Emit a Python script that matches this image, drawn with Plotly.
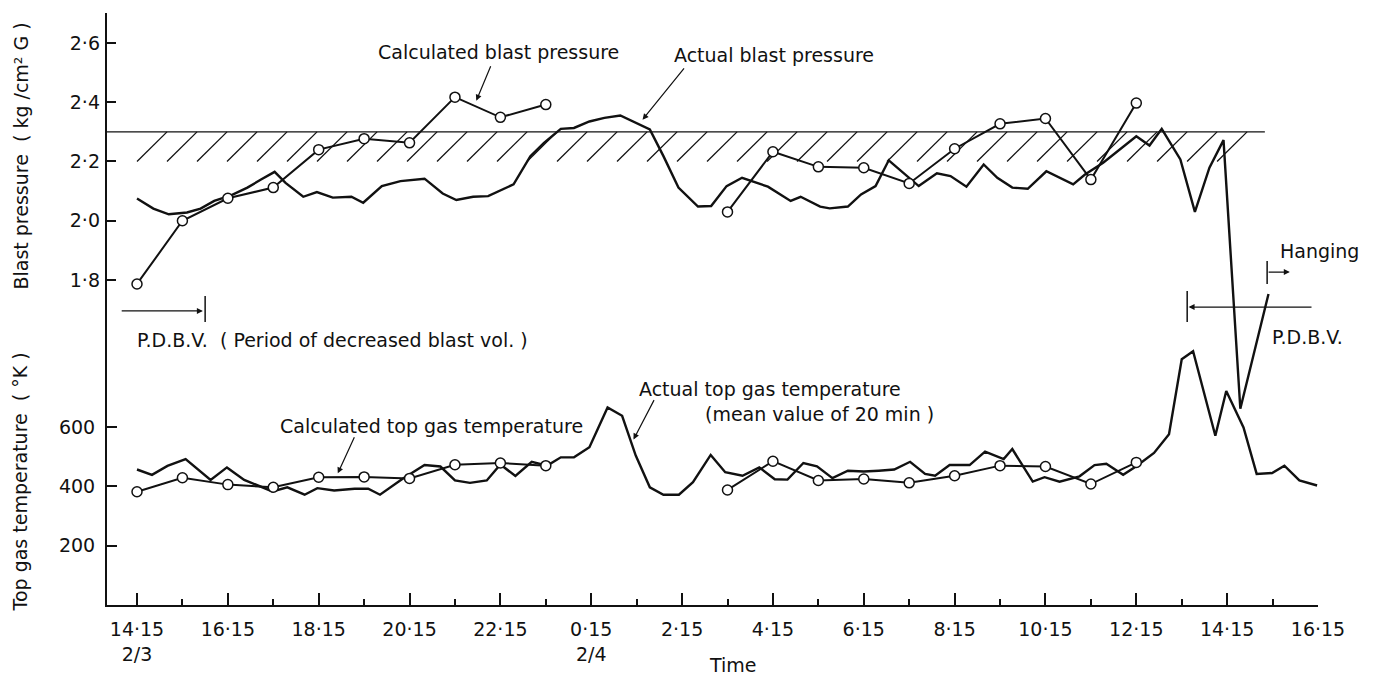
import plotly.graph_objects as go

# ---------------- data (time = hours elapsed since 14:15 on 2/3) ----------------
actual_p_t = [0.00, 0.36, 0.70, 1.10, 1.40, 1.70, 2.07, 2.43, 2.73, 3.03, 3.27, 3.66, 3.96,
              4.31, 4.72, 4.98, 5.39, 5.80, 6.33, 6.73, 7.03, 7.40, 7.73, 8.29, 8.66, 8.96,
              9.33, 9.62, 9.96, 10.29, 10.64, 10.96, 11.29, 11.59, 11.92, 12.35, 12.64, 12.98,
              13.32, 13.89, 14.39, 14.61, 15.04, 15.25, 15.65, 15.94, 16.26, 16.55, 17.21,
              17.61, 17.91, 18.26, 18.64, 18.94, 19.27, 19.61, 20.02, 20.61, 20.87, 21.27,
              22.00, 22.29, 22.56, 22.97, 23.29, 23.61, 23.92, 24.29, 24.91]
actual_p = [2.075, 2.041, 2.022, 2.028, 2.041, 2.067, 2.086, 2.112, 2.139, 2.165, 2.128, 2.081,
            2.097, 2.078, 2.081, 2.061, 2.117, 2.134, 2.142, 2.092, 2.070, 2.081, 2.083, 2.123,
            2.218, 2.263, 2.310, 2.313, 2.335, 2.347, 2.355, 2.332, 2.308, 2.218, 2.112, 2.048,
            2.050, 2.117, 2.145, 2.115, 2.067, 2.081, 2.048, 2.042, 2.048, 2.089, 2.117, 2.204,
            2.117, 2.160, 2.151, 2.115, 2.190, 2.145, 2.112, 2.108, 2.167, 2.123, 2.156, 2.196,
            2.285, 2.254, 2.310, 2.207, 2.030, 2.179, 2.272, 1.366, 1.753]

actual_T_t = [0.00, 0.33, 0.67, 1.07, 1.62, 1.98, 2.36, 2.98, 3.31, 3.69, 3.97, 4.34, 4.79,
              5.09, 5.35, 5.84, 6.33, 6.68, 7.00, 7.33, 7.70, 8.00, 8.33, 8.69, 9.03, 9.33,
              9.62, 9.96, 10.36, 10.68, 10.98, 11.29, 11.59, 11.93, 12.24, 12.63, 12.95, 13.33,
              13.70, 14.04, 14.32, 14.67, 14.97, 15.31, 15.65, 16.00, 16.33, 16.67, 17.02,
              17.35, 17.57, 17.89, 18.33, 18.67, 19.08, 19.27, 19.72, 19.98, 20.31, 20.75,
              21.08, 21.34, 21.71, 22.00, 22.39, 22.72, 23.00, 23.25, 23.74, 23.98, 24.36,
              24.65, 24.99, 25.26, 25.59, 25.98]
actual_T = [457, 439, 469, 492, 422, 464, 422, 383, 397, 372, 394, 386, 392, 392, 372, 425,
            472, 467, 420, 412, 420, 474, 435, 483, 470, 498, 498, 532, 666, 638, 504, 397,
            372, 372, 414, 506, 448, 436, 464, 424, 423, 479, 468, 428, 453, 450, 453, 457,
            483, 442, 436, 472, 472, 517, 492, 526, 416, 431, 416, 434, 472, 476, 439, 468,
            513, 576, 829, 856, 571, 722, 599, 442, 445, 470, 420, 403]

calc_t = [0, 1, 2, 3, 4, 5, 6, 7, 8, 9, None, 13, 14, 15, 16, 17, 18, 19, 20, 21, 22]
calc_p = [1.787, 2.000, 2.076, 2.112, 2.240, 2.277, 2.263, 2.417, 2.349, 2.392, None,
          2.030, 2.233, 2.182, 2.179, 2.126, 2.243, 2.327, 2.345, 2.139, 2.397]
calc_T = [382, 429, 406, 397, 431, 432, 427, 473, 479, 470, None,
          388, 485, 420, 425, 412, 436, 470, 467, 408, 481]

limit_p = 2.3            # permissible blast pressure
hatch_depth = 0.1        # depth of hatched band below the limit
limit_end_t = 24.83      # end of the limit line
hatch_count = 37         # number of hatch strokes
hatch_step = 0.6605      # spacing between strokes (h)

x_major = list(range(0, 27, 2))
x_labels = ["14·15<br>2/3", "16·15", "18·15", "20·15", "22·15", "0·15<br>2/4", "2·15",
            "4·15", "6·15", "8·15", "10·15", "12·15", "14·15", "16·15"]
x_minor = list(range(1, 26, 2))
p_ticks = [1.8, 2.0, 2.2, 2.4, 2.6]
p_labels = ["1·8", "2·0", "2·2", "2·4", "2·6"]
T_ticks = [200, 400, 600]

# ---------------- style ----------------
BLACK = "#111111"
FONT = "DejaVu Sans"
FS = 19
X_RANGE = [-0.6605, 26.0]
T_RANGE = [0, 1996.6]
P_RANGE = [0.7042, 2.7008]

fig = go.Figure()

# hatched band under the limit line: short 45-degree strokes
hx, hy = [], []
for k in range(hatch_count):
    x0 = k * hatch_step
    hx += [x0, x0 + hatch_step, None]
    hy += [limit_p - hatch_depth, limit_p, None]
fig.add_trace(go.Scatter(x=hx, y=hy, yaxis="y2", mode="lines",
                         line=dict(color=BLACK, width=1.3),
                         hoverinfo="skip", showlegend=False))
# limit line
fig.add_trace(go.Scatter(x=[X_RANGE[0], limit_end_t], y=[limit_p, limit_p], yaxis="y2",
                         mode="lines", line=dict(color=BLACK, width=1.3),
                         hoverinfo="skip", showlegend=False))

fig.add_trace(go.Scatter(x=actual_p_t, y=actual_p, yaxis="y2", mode="lines",
                         line=dict(color=BLACK, width=2.4), name="Actual blast pressure",
                         showlegend=False))
fig.add_trace(go.Scatter(x=calc_t, y=calc_p, yaxis="y2", mode="lines+markers",
                         line=dict(color=BLACK, width=2),
                         marker=dict(symbol="circle", size=10, color="white",
                                     line=dict(color=BLACK, width=1.5)),
                         name="Calculated blast pressure", showlegend=False))
fig.add_trace(go.Scatter(x=actual_T_t, y=actual_T, yaxis="y", mode="lines",
                         line=dict(color=BLACK, width=2.4), name="Actual top gas temperature",
                         showlegend=False))
fig.add_trace(go.Scatter(x=calc_t, y=calc_T, yaxis="y", mode="lines+markers",
                         line=dict(color=BLACK, width=2),
                         marker=dict(symbol="circle", size=10, color="white",
                                     line=dict(color=BLACK, width=1.5)),
                         name="Calculated top gas temperature", showlegend=False))

font = dict(family=FONT, size=FS, color=BLACK)


def label(x, y, text, yref="y2", xanchor="left"):
    return dict(x=x, y=y, xref="x", yref=yref, text=text, showarrow=False,
                xanchor=xanchor, yanchor="middle", font=font)


def arrow(x, y, ax, ay, yref="y2"):
    return dict(x=x, y=y, ax=ax, ay=ay, xref="x", yref=yref, axref="x", ayref=yref,
                text="", showarrow=True, arrowhead=2, arrowsize=1, arrowwidth=1.2,
                arrowcolor=BLACK, standoff=0, startstandoff=0)


annotations = [
    label(7.95, 2.570, "Calculated blast pressure", xanchor="center"),
    arrow(7.47, 2.405, 7.80, 2.526),
    label(14.02, 2.560, "Actual blast pressure", xanchor="center"),
    arrow(11.13, 2.341, 12.07, 2.519),
    label(-0.04, 1.598, "P.D.B.V.  ( Period of decreased blast vol. )"),
    arrow(1.45, 1.696, -0.37, 1.696),
    label(25.12, 1.897, "Hanging"),
    arrow(25.38, 1.827, 24.88, 1.827),
    label(24.94, 1.608, "P.D.B.V."),
    arrow(23.15, 1.709, 25.89, 1.709),
    label(3.10, 605, "Calculated top gas temperature", yref="y"),
    arrow(4.42, 444, 4.80, 571, yref="y"),
    label(11.01, 729, "Actual top gas temperature", yref="y"),
    label(12.46, 645, "(mean value of 20 min )", yref="y"),
    arrow(10.93, 558, 11.40, 696, yref="y"),
    dict(x=-0.0718, y=0.7576, xref="paper", yref="paper", text="Blast pressure  ( kg /cm² G )",
         textangle=-90, showarrow=False, xanchor="center", yanchor="middle", font=font),
    dict(x=-0.0718, y=0.2071, xref="paper", yref="paper", text="Top gas temperature  ( °K )",
         textangle=-90, showarrow=False, xanchor="center", yanchor="middle", font=font),
    dict(x=0.517, y=-0.101, xref="paper", yref="paper", text="Time", showarrow=False,
         xanchor="center", yanchor="middle", font=font),
]

shapes = [
    dict(type="line", xref="x", yref="y2", x0=1.50, x1=1.50, y0=1.659, y1=1.746,
         line=dict(color=BLACK, width=1.5)),
    dict(type="line", xref="x", yref="y2", x0=23.12, x1=23.12, y0=1.659, y1=1.763,
         line=dict(color=BLACK, width=1.5)),
    dict(type="line", xref="x", yref="y2", x0=24.88, x1=24.88, y0=1.787, y1=1.864,
         line=dict(color=BLACK, width=1.5)),
]

fig.update_layout(
    width=1375, height=677,
    margin=dict(l=107, r=57, t=13, b=70),
    paper_bgcolor="white", plot_bgcolor="white",
    font=font, showlegend=False,
    annotations=annotations, shapes=shapes,
    xaxis=dict(range=X_RANGE, showgrid=False, zeroline=False, showline=True,
               linecolor=BLACK, linewidth=2, ticks="inside", ticklen=12, tickwidth=1.5,
               tickcolor=BLACK, tickmode="array", tickvals=x_major, ticktext=x_labels,
               tickfont=font, ticklabelstandoff=6,
               minor=dict(tickmode="array", tickvals=x_minor, ticks="inside", ticklen=6,
                          tickwidth=1.5, tickcolor=BLACK)),
    yaxis=dict(range=T_RANGE, showgrid=False, zeroline=False, showline=True,
               linecolor=BLACK, linewidth=2, ticks="inside", ticklen=10, tickwidth=1.5,
               tickcolor=BLACK, tickmode="array", tickvals=T_ticks,
               ticktext=[str(v) for v in T_ticks], tickfont=font, ticklabelstandoff=6),
    yaxis2=dict(range=P_RANGE, overlaying="y", side="left", anchor="x", showgrid=False,
                zeroline=False, showline=False, ticks="inside", ticklen=9, tickwidth=1.5,
                tickcolor=BLACK, tickmode="array", tickvals=p_ticks, ticktext=p_labels,
                tickfont=font, ticklabelstandoff=6),
)

fig.write_html("out.html", config={"displayModeBar": False})
